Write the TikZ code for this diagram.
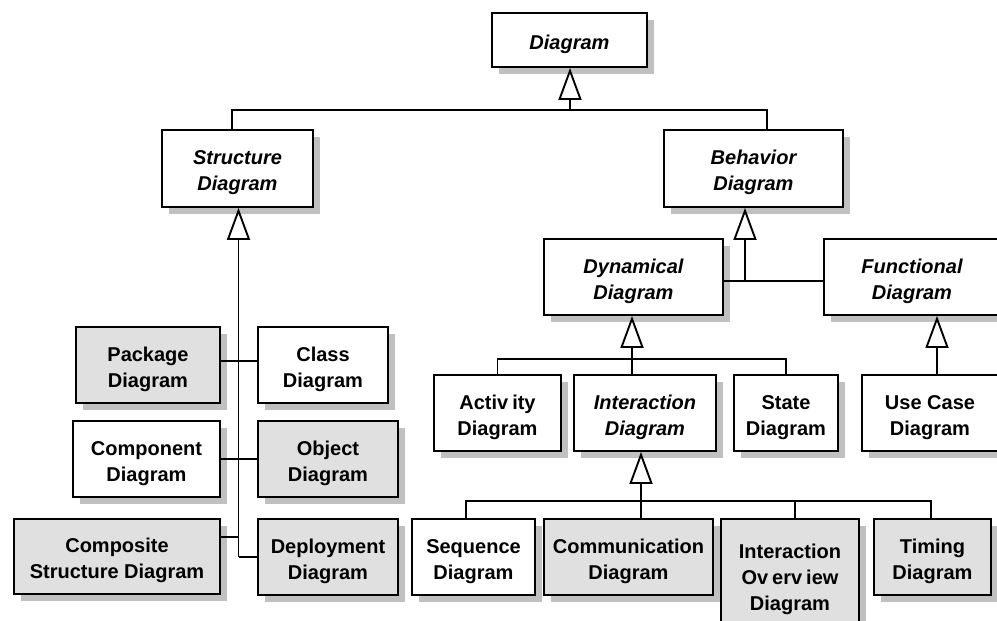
\documentclass[tikz,border=0pt]{standalone}
\usepackage{fontspec}
\setmainfont{Liberation Sans}
\usetikzlibrary{arrows.meta,shadows}
\definecolor{boxgray}{RGB}{224,224,224}
\definecolor{shadegray}{RGB}{192,192,192}
% raises the first line so that the lettering sits a little low in its box
\newcommand\firstline{\rule{0pt}{23pt}}
\tikzset{
  box/.style={draw=black, line width=1.9pt, fill=white, align=center, inner sep=0pt,
    font=\fontsize{20}{26}\selectfont\bfseries,
    drop shadow={shadow xshift=7pt, shadow yshift=-7pt, fill=shadegray, opacity=1}},
  grey/.style={fill=boxgray},
  abstract/.style={font=\fontsize{20}{26}\selectfont\bfseries\itshape},
  link/.style={line width=1.9pt},
  gen/.style={link, -{Triangle[length=32pt,width=23pt,fill=white]}},
}
\begin{document}
\begin{tikzpicture}[x=1pt,y=-1pt]
\useasboundingbox (0,0) rectangle (997,621);
\clip (0,0) rectangle (997,621);

% top level
\node[box,abstract,minimum width=155pt,minimum height=54pt] (diagram) at (569.5,40) {\firstline Diagram};
\node[box,abstract,minimum width=151pt,minimum height=77pt] (structure) at (237.5,168.5) {\firstline Structure\\Diagram};
\node[box,abstract,minimum width=179pt,minimum height=77pt] (behavior) at (753.5,168.5) {\firstline Behavior\\Diagram};

% structure diagrams
\node[box,grey,minimum width=144pt,minimum height=76pt] (package) at (148,365) {\firstline Package\\Diagram};
\node[box,minimum width=130pt,minimum height=76pt] (class) at (323,365) {\firstline Class\\Diagram};
\node[box,minimum width=147pt,minimum height=76pt] (component) at (146.5,459) {\firstline Component\\Diagram};
\node[box,grey,minimum width=140pt,minimum height=76pt] (object) at (328,459) {\firstline Object\\Diagram};
\node[box,grey,minimum width=206pt,minimum height=75pt] (composite) at (117,556.5) {\firstline Composite\\Structure Diagram};
\node[box,grey,minimum width=140pt,minimum height=76pt] (deployment) at (328,557) {\firstline Deployment\\Diagram};

% behavior diagrams
\node[box,abstract,minimum width=179pt,minimum height=76pt] (dynamical) at (633.5,277) {\firstline Dynamical\\Diagram};
\node[box,abstract,minimum width=176pt,minimum height=76pt] (functional) at (912,277) {\firstline Functional\\Diagram};
\node[box,minimum width=127pt,minimum height=76pt] (activity) at (497.5,413) {\firstline Activ\kern4pt ity\\Diagram};
\node[box,abstract,minimum width=142pt,minimum height=76pt] (interaction) at (645,413) {\firstline Interaction\\Diagram};
\node[box,minimum width=104pt,minimum height=76pt] (state) at (786,413) {\firstline State\\Diagram};
\node[box,minimum width=136pt,minimum height=76pt] (usecase) at (930,413) {\firstline Use Case\\Diagram};

% interaction diagrams
\node[box,minimum width=123pt,minimum height=76pt] (sequence) at (473.5,557) {\firstline Sequence\\Diagram};
\node[box,grey,minimum width=169pt,minimum height=76pt] (communication) at (628.5,557) {\firstline Communication\\Diagram};
\node[box,grey,minimum width=138pt,minimum height=113pt] (overview) at (790,575.5) {\firstline Interaction\\Ov\kern4pt erv\kern4pt iew\\Diagram};
\node[box,grey,minimum width=117pt,minimum height=76pt] (timing) at (932.5,557) {\firstline Timing\\Diagram};

% junction points
\coordinate (tD) at (570,110);
\coordinate (sTop) at (232,110);
\coordinate (bTop) at (767,110);
\coordinate (sT) at (238.5,557);
\coordinate (cJ) at (238.5,537);
\coordinate (bJ) at (745,281);
\coordinate (dJ) at (632,359);
\coordinate (fJ) at (937,347);
\coordinate (iJ) at (641,501);
\coordinate (qS) at (466,501);
\coordinate (qO) at (795,501);
\coordinate (qT) at (931,501);

% generalisation of Diagram
\draw[gen] (tD) -- (tD |- diagram.south);
\draw[link] (sTop |- structure.north) -- (sTop) -- (bTop) -- (bTop |- behavior.north);

% structure tree
\draw[gen] (sT) -- (sT |- structure.south);
\draw[link] (sT) -- (deployment.west);
\draw[link] ([yshift=4pt]package.east) -- ([yshift=4pt]class.west);
\draw[link] (component.east) -- (object.west);
\draw[link] (cJ -| composite.east) -- (cJ);

% behavior tree
\draw[gen] (bJ) -- (bJ |- behavior.south);
\draw[link] (dynamical.east |- bJ) -- (functional.west |- bJ);

\draw[gen] (dJ) -- (dJ |- dynamical.south);
\draw[link] (activity.north) -- (activity.north |- dJ) -- (state.north |- dJ) -- (state.north);
\draw[link] (dJ) -- (dJ |- interaction.north);

\draw[gen] (fJ |- usecase.north) -- (fJ |- functional.south);

% interaction tree
\draw[gen] (iJ) -- (iJ |- interaction.south);
\draw[link] (qS |- sequence.north) -- (qS) -- (qT) -- (qT |- timing.north);
\draw[link] (iJ) -- (iJ |- communication.north);
\draw[link] (qO) -- (qO |- overview.north);
\end{tikzpicture}
\end{document}
